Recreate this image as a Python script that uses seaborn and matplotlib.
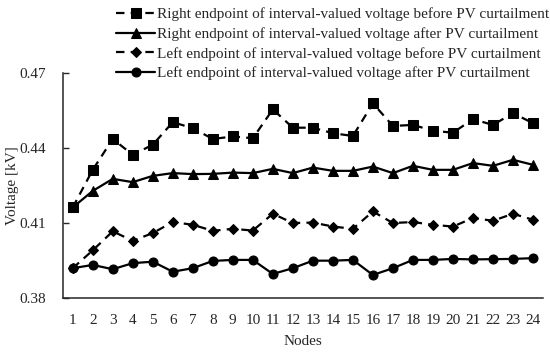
import matplotlib
matplotlib.use("Agg")
import matplotlib.pyplot as plt
import seaborn as sns
import pandas as pd

nodes = list(range(1, 25))
right_before = [0.4162, 0.4312, 0.4435, 0.4372, 0.4412, 0.4502, 0.4478, 0.4435, 0.4445, 0.4438, 0.4553, 0.4480,
                0.4480, 0.4458, 0.4447, 0.4577, 0.4487, 0.4491, 0.4468, 0.4460, 0.4514, 0.4491, 0.4538, 0.4498]
right_after = [0.4162, 0.4228, 0.4276, 0.4263, 0.4288, 0.4299, 0.4295, 0.4296, 0.4301, 0.4299, 0.4316, 0.4299,
               0.4321, 0.4308, 0.4308, 0.4325, 0.4299, 0.4328, 0.4312, 0.4312, 0.4339, 0.4328, 0.4352, 0.4332]
left_before = [0.3920, 0.3991, 0.4067, 0.4029, 0.4060, 0.4104, 0.4093, 0.4069, 0.4077, 0.4070, 0.4137, 0.4100,
               0.4102, 0.4086, 0.4077, 0.4146, 0.4100, 0.4104, 0.4093, 0.4086, 0.4120, 0.4109, 0.4137, 0.4113]
left_after = [0.3920, 0.3933, 0.3916, 0.3940, 0.3946, 0.3906, 0.3920, 0.3949, 0.3953, 0.3953, 0.3897, 0.3920,
              0.3950, 0.3950, 0.3953, 0.3893, 0.3920, 0.3953, 0.3953, 0.3957, 0.3955, 0.3956, 0.3957, 0.3960]

labels = [
    "Right endpoint of interval-valued voltage before PV curtailment",
    "Right endpoint of interval-valued voltage after PV curtailment",
    "Left endpoint of interval-valued voltage before PV curtailment",
    "Left endpoint of interval-valued voltage after PV curtailment",
]
yticks = [0.38, 0.41, 0.44, 0.47]

sns.set_style("ticks")
plt.rcParams["font.family"] = ["Liberation Serif", "DejaVu Serif"]
plt.rcParams["font.size"] = 10.5

fig = plt.figure(figsize=(5.5, 3.52), dpi=100)
ax = fig.add_axes([62.7 / 550, (352 - 298.3) / 352, (543 - 62.7) / 550, (298.3 - 72.5) / 352])

series = [right_before, right_after, left_before, left_after]
markers = ["s", "^", "D", "o"]
msizes = [7.5, 7.5, 5.5, 6.5]
dashed = [True, False, True, False]
for vals, lab, mk, ms, d in zip(series, labels, markers, msizes, dashed):
    df = pd.DataFrame({"Nodes": nodes, "V": vals})
    sns.lineplot(data=df, x="Nodes", y="V", ax=ax, color="black", marker=mk, markersize=ms,
                 markeredgecolor="black", linewidth=1.6, label=lab,
                 linestyle=(0, (3.8, 2.8)) if d else "-")

ax.set_xlim(0.5, 24.5)
ax.set_ylim(0.38, 0.47)
ax.set_xticks(nodes)
ax.set_xticklabels([str(n) for n in nodes])
ax.set_yticks(yticks)
ax.set_yticklabels([f"{t:.2f}" for t in yticks])
ax.tick_params(axis="y", direction="in", length=4, width=1, pad=12, labelsize=11)
ax.tick_params(axis="x", length=0, pad=11, labelsize=11)
ax.set_xlabel("Nodes", fontsize=11, labelpad=6)
ax.set_ylabel("Voltage [kV]", fontsize=11, labelpad=0.5)
for s in ["top", "right"]:
    ax.spines[s].set_visible(False)
for s in ["left", "bottom"]:
    ax.spines[s].set_linewidth(1.1)

ax.get_legend().remove()
h, l = ax.get_legend_handles_labels()
fig.legend(h, l, loc="upper left", bbox_to_anchor=(105 / 550, 1 + 3 / 352), frameon=False,
           fontsize=11, handlelength=2.6, handletextpad=0.08, labelspacing=0.38,
           borderpad=0.2)

fig.savefig("out.png", dpi=100)
